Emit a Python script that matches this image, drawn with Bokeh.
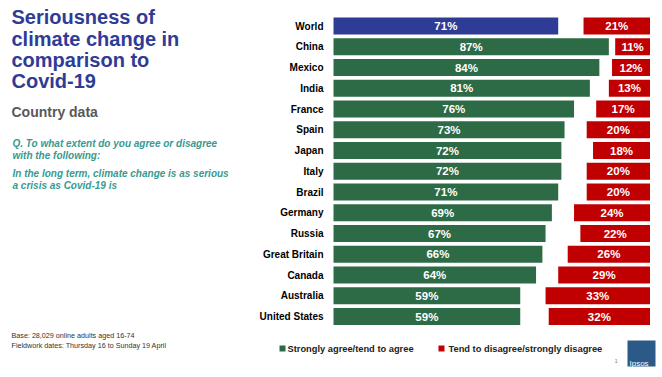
from bokeh.plotting import figure
from bokeh.models import ColumnDataSource, Range1d, Label, BoxAnnotation
from bokeh.core.properties import value
from bokeh.embed import file_html
from bokeh.resources import INLINE

countries = ["World", "China", "Mexico", "India", "France", "Spain", "Japan", "Italy",
             "Brazil", "Germany", "Russia", "Great Britain", "Canada", "Australia", "United States"]
agree = [71, 87, 84, 81, 76, 73, 72, 72, 71, 69, 67, 66, 64, 59, 59]
disagree = [21, 11, 12, 13, 17, 20, 18, 20, 20, 24, 22, 26, 29, 33, 32]

W, H = 662, 377
PX = 3.165          # pixels per percentage point
X0 = 333            # pixel of 0%
ROW0, STEP = 25.5, 20.75

FONT = value("Liberation Sans")
BLUE = "#2F3C96"
GREEN = "#2D6A46"
RED = "#C00000"

n = len(countries)
rows = list(range(n))
src = ColumnDataSource(dict(
    country=countries, row=rows, agree=agree, disagree=disagree,
    a_mid=[a / 2 for a in agree],
    d_left=[100 - d for d in disagree],
    d_mid=[100 - d / 2 for d in disagree],
    a_lab=[f"{a}%" for a in agree],
    d_lab=[f"{d}%" for d in disagree],
    gcol=[BLUE] + [GREEN] * (n - 1),
))

p = figure(width=W, height=H, output_backend="svg", toolbar_location=None,
           x_axis_type=None, y_axis_type=None, min_border=0,
           x_range=Range1d(-X0 / PX, (W - X0) / PX),
           y_range=Range1d((H - ROW0) / STEP, -ROW0 / STEP))
p.outline_line_color = None
p.grid.visible = False
p.background_fill_color = "white"
p.border_fill_color = "white"

p.hbar(y="row", left=0, right="agree", height=0.81, fill_color="gcol", line_color=None, source=src)
p.hbar(y="row", left="d_left", right=100, height=0.81, fill_color=RED, line_color=None, source=src)

p.text(x="a_mid", y="row", text="a_lab", text_align="center", text_baseline="middle",
       text_color="white", text_font=FONT, text_font_style="bold", text_font_size="11.5px", source=src)
p.text(x="d_mid", y="row", text="d_lab", text_align="center", text_baseline="middle",
       text_color="white", text_font=FONT, text_font_style="bold", text_font_size="11.5px", source=src)
p.text(x=-10 / PX, y="row", text="country", text_align="right", text_baseline="middle",
       text_color="black", text_font=FONT, text_font_style="bold", text_font_size="10px", source=src)


def lab(txt, x, y, size, color, style="normal"):
    fs = float(size[:-2])
    y = y - 0.27 * fs
    p.add_layout(Label(x=x, y=H - y, x_units="screen", y_units="screen", text=txt,
                       text_font="Liberation Sans", text_font_size=size, text_color=color,
                       text_font_style=style, text_baseline="alphabetic"))


title = ["Seriousness of", "climate change in", "comparison to", "Covid-19"]
for i, t in enumerate(title):
    lab(t, 11, 22 + 21.4 * i, "20px", BLUE, "bold")
lab("Country data", 11, 115, "14px", "#595959", "bold")
TEAL = "#389A8F"
lab("Q. To what extent do you agree or disagree", 12, 146, "10px", TEAL, "bold italic")
lab("with the following:", 12, 158, "10px", TEAL, "bold italic")
lab("In the long term, climate change is as serious", 12, 176, "10px", TEAL, "bold italic")
lab("a crisis as Covid-19 is", 12, 188, "10px", TEAL, "bold italic")
lab("Base: 28,029 online adults aged 16-74", 11, 337, "7.2px", "#333333")
lab("Fieldwork dates: Thursday 16 to Sunday 19 April", 11, 347, "7.2px", "#333333")

# legend
p.add_layout(BoxAnnotation(left=279, right=285, bottom=H - 351, top=H - 345,
                           left_units="screen", right_units="screen",
                           top_units="screen", bottom_units="screen",
                           fill_color=GREEN, fill_alpha=1, line_color=None))
lab("Strongly agree/tend to agree", 287, 351.5, "9.3px", "#222222", "bold")
p.add_layout(BoxAnnotation(left=438, right=444, bottom=H - 351, top=H - 345,
                           left_units="screen", right_units="screen",
                           top_units="screen", bottom_units="screen",
                           fill_color=RED, fill_alpha=1, line_color=None))
lab("Tend to disagree/strongly disagree", 448, 351.5, "9.3px", "#222222", "bold")

# logo
p.add_layout(BoxAnnotation(left=627, right=655, bottom=H - 366, top=H - 340,
                           left_units="screen", right_units="screen",
                           top_units="screen", bottom_units="screen",
                           fill_color="#2B5A88", fill_alpha=1, line_color=None))
lab("Ipsos", 629, 365, "8px", "white")
lab("1", 614, 362, "6px", "#888888")

open("out.html", "w").write(file_html(p, INLINE))
